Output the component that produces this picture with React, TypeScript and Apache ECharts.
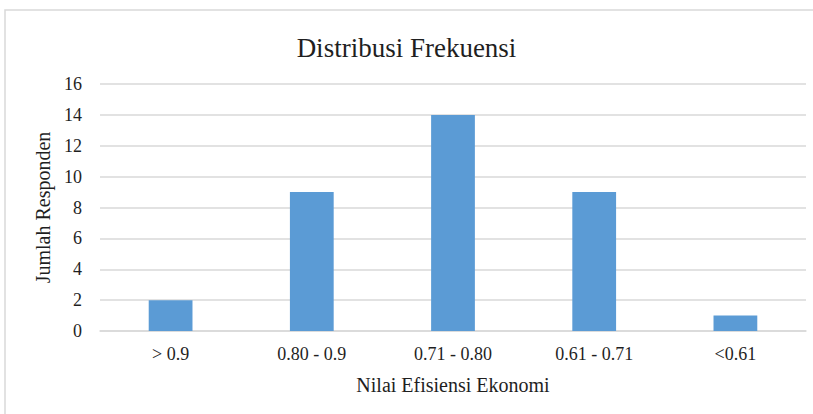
import React, { useEffect, useRef } from "react";
import * as echarts from "echarts";

const categories = ["> 0.9", "0.80 - 0.9", "0.71 - 0.80", "0.61 - 0.71", "<0.61"];
const values = [2, 9, 14, 9, 1];
const titleText = "Distribusi Frekuensi";
const xName = "Nilai Efisiensi Ekonomi";
const yName = "Jumlah Responden";

const FONT = "Liberation Serif";
const TXT = "#1f1f1f";

export default function App() {
  const ref = useRef<HTMLDivElement>(null);
  useEffect(() => {
    if (!ref.current) return;
    const chart = echarts.init(ref.current, null, { renderer: "svg" });
    chart.setOption({
      animation: false,
      backgroundColor: "#ffffff",
      textStyle: { fontFamily: FONT },
      title: {
        text: titleText,
        left: "center",
        top: 29,
        textStyle: { fontFamily: FONT, fontSize: 27, fontWeight: "normal", color: TXT },
      },
      graphic: [
        {
          type: "rect",
          shape: { x: 5, y: 10, width: 830, height: 430 },
          style: { fill: "none", stroke: "#d9d9d9", lineWidth: 1.5 },
          silent: true,
        },
      ],
      grid: { left: 100, right: 7, top: 84, bottom: 83 },
      xAxis: {
        type: "category",
        data: categories,
        name: xName,
        nameLocation: "middle",
        nameGap: 44,
        nameTextStyle: { fontFamily: FONT, fontSize: 20, color: TXT },
        axisLine: { lineStyle: { color: "#d9d9d9", width: 1.5 } },
        axisTick: { show: false },
        axisLabel: { fontFamily: FONT, fontSize: 18, color: TXT, margin: 14 },
      },
      yAxis: {
        type: "value",
        min: 0,
        max: 16,
        interval: 2,
        name: yName,
        nameLocation: "middle",
        nameGap: 46,
        nameTextStyle: { fontFamily: FONT, fontSize: 20, color: TXT },
        axisLine: { show: false },
        axisTick: { show: false },
        axisLabel: { fontFamily: FONT, fontSize: 18, color: TXT, margin: 18 },
        splitLine: { lineStyle: { color: "#d9d9d9", width: 1.5 } },
      },
      series: [
        {
          type: "bar",
          data: values,
          barWidth: "31%",
          itemStyle: { color: "#5B9BD5" },
        },
      ],
    });
    return () => chart.dispose();
  }, []);
  return (
    <div
      ref={ref}
      style={{ position: "fixed", left: 0, top: 0, width: 813, height: 414 }}
    />
  );
}
